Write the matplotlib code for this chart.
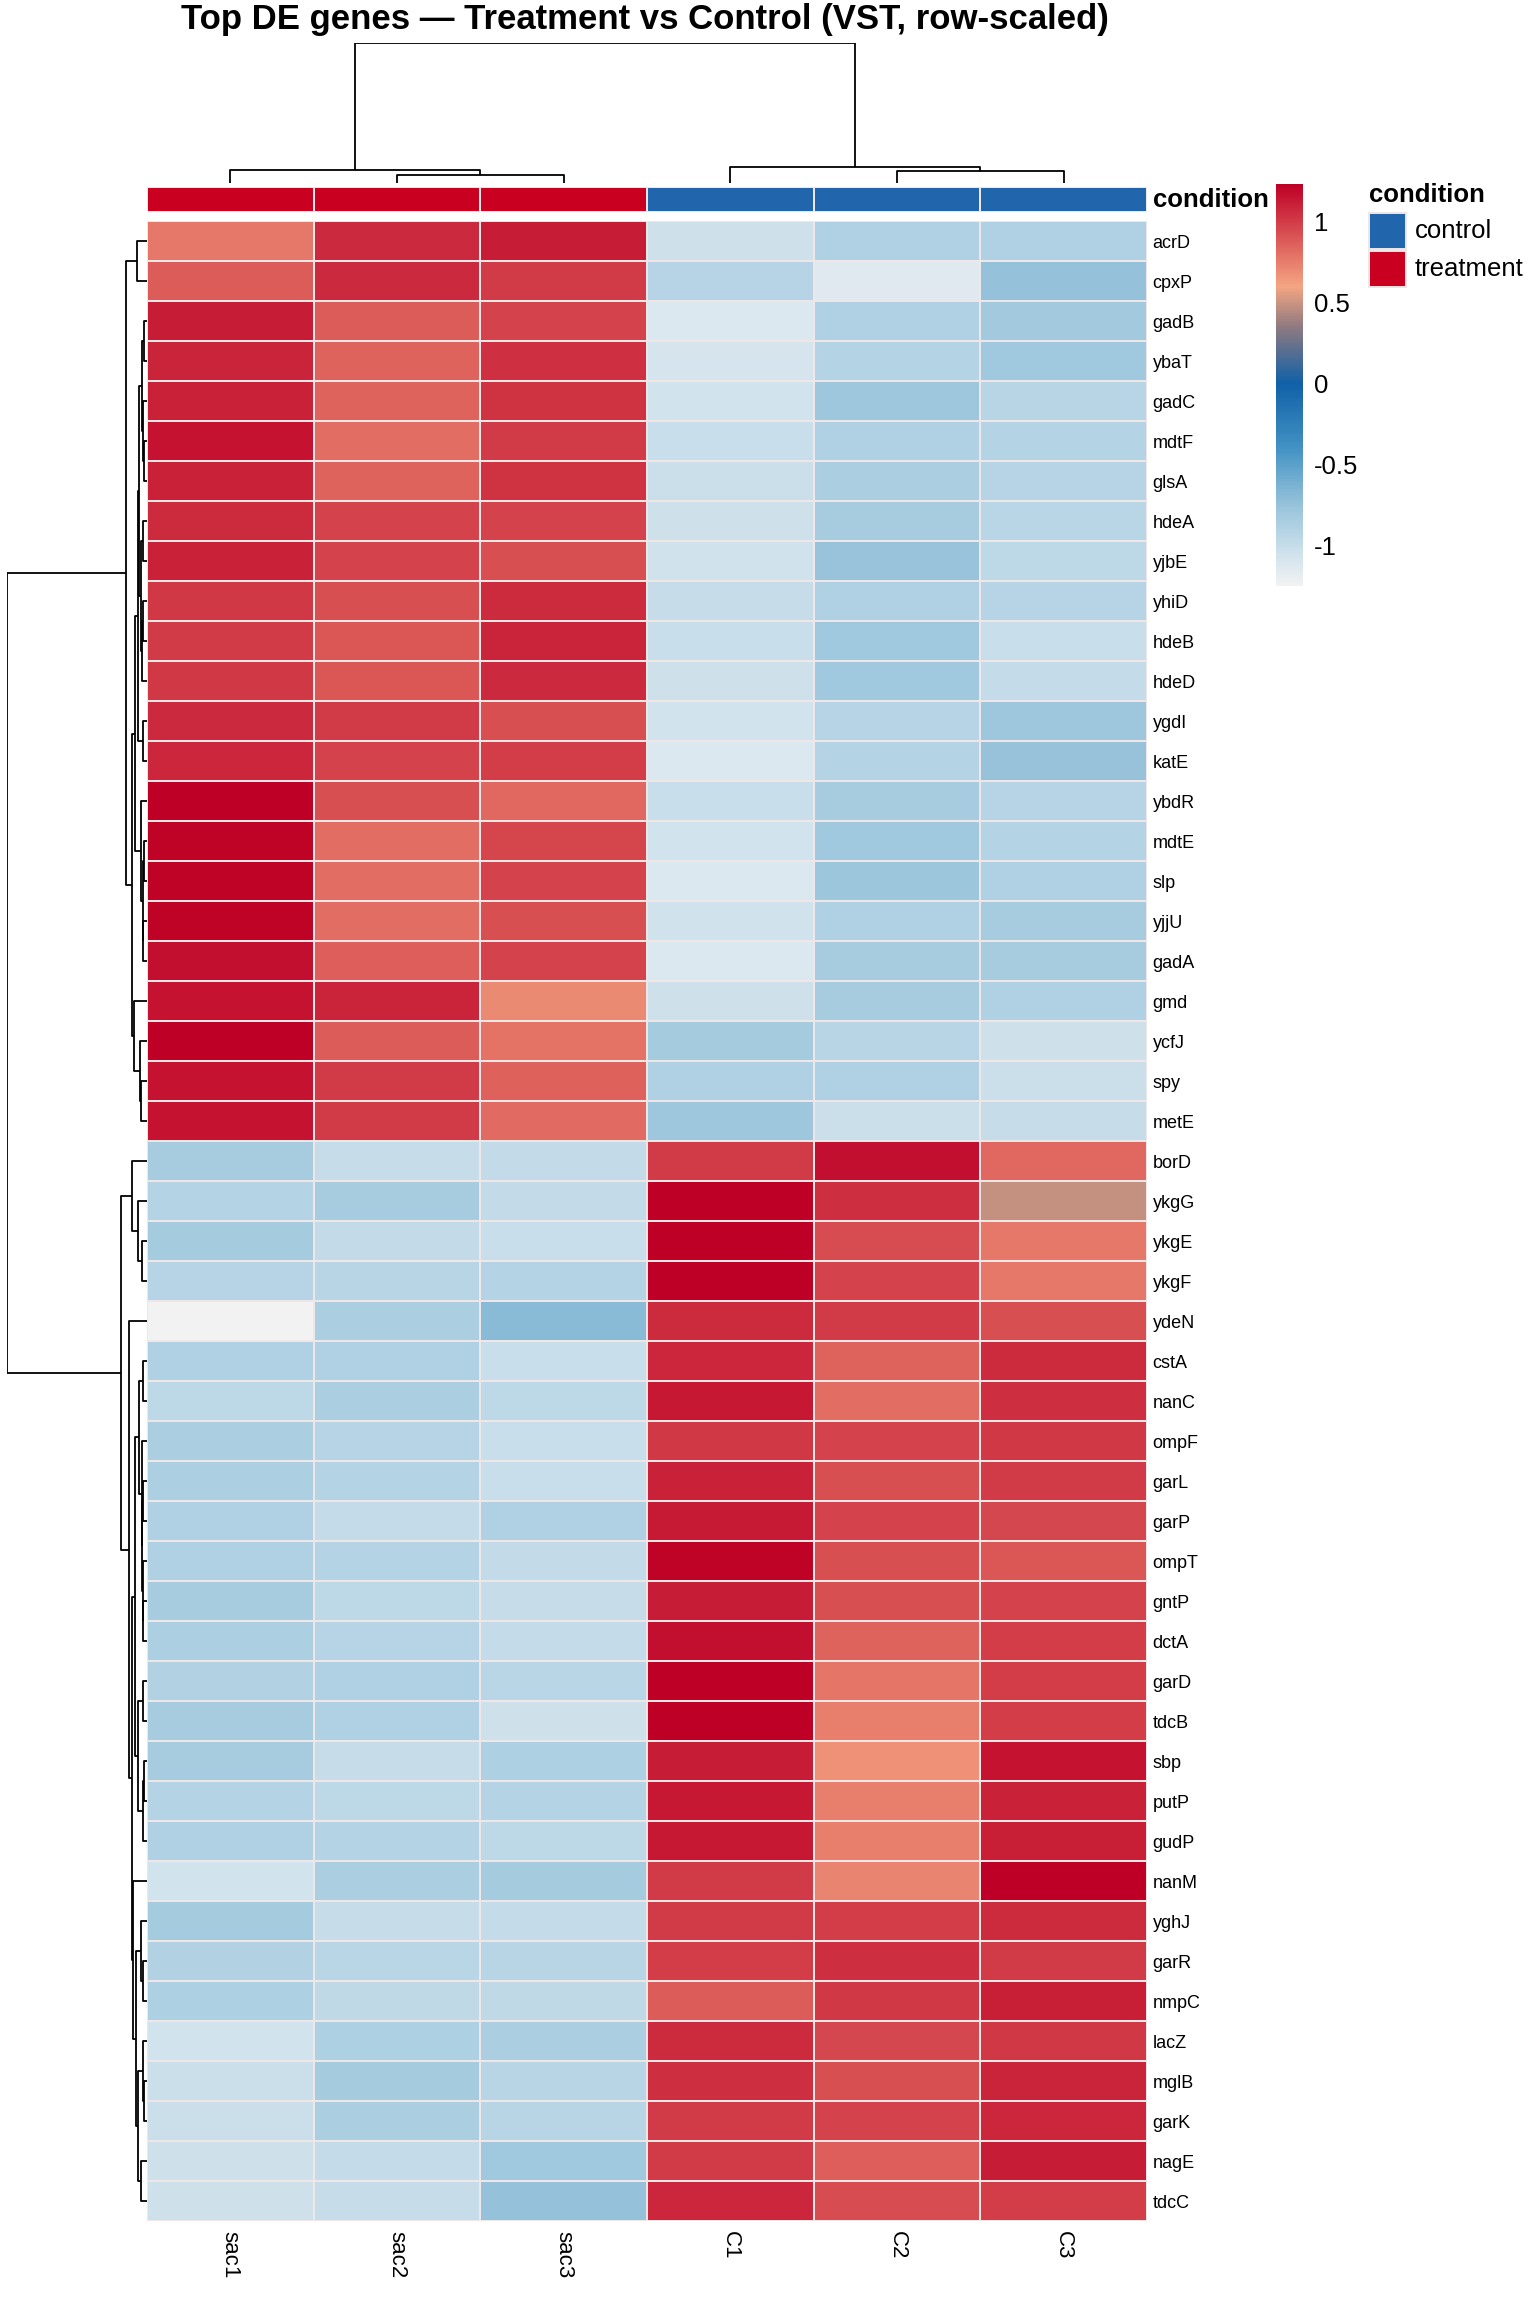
import numpy as np
import matplotlib
matplotlib.use("Agg")
import matplotlib.pyplot as plt
from matplotlib.colors import LinearSegmentedColormap, ListedColormap, Normalize
from matplotlib.patches import Rectangle
import matplotlib.colorbar as mcolorbar

plt.rcParams['font.family'] = ['Liberation Sans', 'DejaVu Sans']

# ---------------- data ----------------
samples = ['sac1', 'sac2', 'sac3', 'C1', 'C2', 'C3']
condition = ['treatment', 'treatment', 'treatment', 'control', 'control', 'control']

genes = ['acrD', 'cpxP', 'gadB', 'ybaT', 'gadC', 'mdtF', 'glsA', 'hdeA', 'yjbE', 'yhiD',
         'hdeB', 'hdeD', 'ygdI', 'katE', 'ybdR', 'mdtE', 'slp', 'yjjU', 'gadA', 'gmd',
         'ycfJ', 'spy', 'metE', 'borD', 'ykgG', 'ykgE', 'ykgF', 'ydeN', 'cstA', 'nanC',
         'ompF', 'garL', 'garP', 'ompT', 'gntP', 'dctA', 'garD', 'tdcB', 'sbp', 'putP',
         'gudP', 'nanM', 'yghJ', 'garR', 'nmpC', 'lacZ', 'mglB', 'garK', 'nagE', 'tdcC']

# row-scaled VST values, columns follow `samples`
z = [
    [0.77, 1.07, 1.12, -1.04, -0.89, -0.89],
    [0.88, 1.07, 1.00, -0.92, -1.14, -0.74],
    [1.12, 0.88, 0.97, -1.12, -0.89, -0.81],
    [1.09, 0.85, 1.04, -1.08, -0.91, -0.80],
    [1.10, 0.85, 1.03, -1.06, -0.79, -0.93],
    [1.16, 0.81, 1.00, -1.01, -0.89, -0.91],
    [1.10, 0.85, 1.03, -1.02, -0.86, -0.92],
    [1.06, 0.97, 0.97, -1.04, -0.84, -0.94],
    [1.10, 0.97, 0.92, -1.05, -0.76, -0.95],
    [1.01, 0.92, 1.06, -1.00, -0.89, -0.92],
    [1.00, 0.90, 1.09, -1.01, -0.80, -1.01],
    [1.01, 0.90, 1.07, -1.04, -0.80, -0.99],
    [1.07, 1.00, 0.92, -1.06, -0.92, -0.79],
    [1.08, 0.97, 0.99, -1.12, -0.91, -0.75],
    [1.23, 0.92, 0.83, -1.01, -0.84, -0.92],
    [1.22, 0.81, 0.96, -1.06, -0.80, -0.91],
    [1.22, 0.81, 0.97, -1.12, -0.78, -0.89],
    [1.22, 0.81, 0.92, -1.05, -0.89, -0.84],
    [1.17, 0.87, 0.97, -1.12, -0.84, -0.84],
    [1.16, 1.09, 0.70, -1.04, -0.84, -0.89],
    [1.23, 0.88, 0.79, -0.83, -0.93, -1.04],
    [1.16, 1.00, 0.86, -0.89, -0.89, -1.02],
    [1.16, 1.00, 0.82, -0.79, -1.02, -1.00],
    [-0.84, -1.00, -0.98, 1.00, 1.17, 0.83],
    [-0.91, -0.84, -0.98, 1.23, 1.05, 0.48],
    [-0.83, -0.98, -1.01, 1.23, 0.93, 0.77],
    [-0.92, -0.93, -0.91, 1.23, 0.97, 0.77],
    [-1.25, -0.86, -0.69, 1.06, 1.00, 0.92],
    [-0.89, -0.89, -1.01, 1.08, 0.85, 1.06],
    [-0.95, -0.86, -0.95, 1.14, 0.81, 1.05],
    [-0.86, -0.92, -1.01, 1.01, 0.97, 1.01],
    [-0.87, -0.91, -1.01, 1.10, 0.92, 1.00],
    [-0.89, -0.99, -0.89, 1.13, 0.97, 0.95],
    [-0.89, -0.91, -0.98, 1.22, 0.92, 0.90],
    [-0.84, -0.95, -1.00, 1.12, 0.92, 0.97],
    [-0.87, -0.92, -0.99, 1.17, 0.85, 0.99],
    [-0.90, -0.89, -0.94, 1.23, 0.78, 0.99],
    [-0.84, -0.89, -1.04, 1.23, 0.74, 0.99],
    [-0.84, -1.00, -0.88, 1.12, 0.67, 1.16],
    [-0.91, -0.95, -0.91, 1.14, 0.74, 1.10],
    [-0.89, -0.91, -0.95, 1.14, 0.74, 1.11],
    [-1.06, -0.86, -0.83, 1.00, 0.72, 1.23],
    [-0.83, -1.00, -0.99, 1.00, 0.99, 1.06],
    [-0.90, -0.94, -0.93, 0.99, 1.05, 1.00],
    [-0.88, -0.96, -0.96, 0.88, 1.01, 1.11],
    [-1.06, -0.88, -0.86, 1.06, 0.95, 1.01],
    [-1.02, -0.83, -0.93, 1.05, 0.92, 1.09],
    [-1.02, -0.86, -0.93, 1.00, 0.97, 1.08],
    [-1.04, -0.99, -0.80, 1.00, 0.87, 1.12],
    [-1.04, -1.00, -0.74, 1.08, 0.93, 0.99],
]

# clustering trees: [left, right, merge height]
row_tree = [
    [['acrD', 'cpxP', 10],
     [[[[[['gadB', 'ybaT', 3], ['gadC', ['mdtF', 'glsA', 3], 4], 5.5],
          [['hdeA', 'yjbE', 3.7], [['yhiD', 'hdeB', 3.7], 'hdeD', 5], 6.5], 8.5],
         ['ygdI', 'katE', 3.7], 9.5],
        ['ybdR', [['mdtE', 'slp', 2.7], ['yjjU', 'gadA', 3.7], 4.5], 6], 12],
       ['gmd', ['ycfJ', ['spy', 'metE', 6], 7], 12.7], 15], 21],
    [['borD', ['ykgG', ['ykgE', 'ykgF', 5.3], 8.7], 14.7],
     ['ydeN',
      [[[['cstA', 'nanC', 3.7],
         ['ompF', [['garL', 'garP', 3.7], ['ompT', ['gntP', 'dctA', 3.7], 4.3], 4.7], 5.3], 7.7],
        [['garD', 'tdcB', 3.7], [['sbp', 'putP', 3], 'gudP', 4.3], 8.7], 12],
       ['nanM',
        [['yghJ', ['garR', 'nmpC', 3.7], 6],
         [['lacZ', ['mglB', 'garK', 3], 3.7], ['nagE', 'tdcC', 6], 8.7], 11], 13.7], 15.3], 18], 26.3],
    140]
col_tree = [['sac1', ['sac2', 'sac3', 8], 13], ['C1', ['C2', 'C3', 12], 16], 140]

cond_colors = {'control': '#2166AC', 'treatment': '#CA0020'}
vmin, vmax = -1.25, 1.23
stops = [(-1.25, '#F2F2F2'), (-1.1, '#D8E6EE'), (-0.9, '#B2D2E4'), (-0.75, '#96C2DA'),
         (-0.4, '#4292C4'), (0.0, '#1060A8'), (0.35, '#8E7A80'), (0.6, '#F4A582'),
         (1.23, '#BE0026')]
cmap = LinearSegmentedColormap.from_list(
    'vst', [((v - vmin) / (vmax - vmin), c) for v, c in stops])
norm = Normalize(vmin=vmin, vmax=vmax)
edge = '#EFE7E7'

W, H = 1536, 2304
fig = plt.figure(figsize=(W / 100, H / 100), dpi=100)


def fbox(x0, y0, x1, y1):
    # pixel box (top-left origin) -> figure fraction
    return [x0 / W, 1 - y1 / H, (x1 - x0) / W, (y1 - y0) / H]


def draw_tree(ax, tree, pos, horizontal):
    # returns (centre, height) of the node, drawing U-links on the way
    if isinstance(tree, str):
        return pos[tree], 0.0
    l, r, h = tree
    cl, hl = draw_tree(ax, l, pos, horizontal)
    cr, hr = draw_tree(ax, r, pos, horizontal)
    a = [cl, cl, cr, cr]
    b = [hl, h, h, hr]
    if horizontal:
        ax.plot(a, b, color='black', lw=1.3, solid_capstyle='butt')
    else:
        ax.plot(b, a, color='black', lw=1.3, solid_capstyle='butt')
    return (cl + cr) / 2, h


# ---------------- heatmap ----------------
ax = fig.add_axes(fbox(147, 221, 1147, 2221))
mat = np.array(z)
ax.pcolormesh(mat, cmap=cmap, norm=norm, edgecolors=edge, linewidth=1.4)
ax.set_xlim(0, len(samples))
ax.set_ylim(len(genes), 0)
for s in ax.spines.values():
    s.set_visible(False)
ax.yaxis.tick_right()
ax.set_yticks(np.arange(len(genes)) + 0.5)
ax.set_yticklabels(genes, fontsize=13)
ax.set_xticks(np.arange(len(samples)) + 0.5)
ax.set_xticklabels(samples, fontsize=16, rotation=270, ha='center', va='top')
ax.tick_params(length=0, pad=4)
ax.tick_params(axis='x', pad=7)

# ---------------- annotation bar ----------------
axa = fig.add_axes(fbox(147, 187, 1147, 212))
levels = sorted(cond_colors)
codes = np.array([[levels.index(c) for c in condition]])
axa.pcolormesh(codes, cmap=ListedColormap([cond_colors[k] for k in levels]),
               vmin=-0.5, vmax=len(levels) - 0.5, edgecolors=edge, linewidth=1.4)
axa.set_xlim(0, len(samples))
axa.axis('off')
fig.text(1153 / W, 1 - 200 / H, 'condition', fontsize=18.5, fontweight='bold',
         ha='left', va='center')

# ---------------- dendrograms ----------------
axc = fig.add_axes(fbox(147, 43, 1147, 183))
draw_tree(axc, col_tree, {s: i + 0.5 for i, s in enumerate(samples)}, True)
axc.set_xlim(0, len(samples))
axc.set_ylim(0, 140)
axc.axis('off')

axr = fig.add_axes(fbox(7, 221, 147, 2221))
draw_tree(axr, row_tree, {g: i + 0.5 for i, g in enumerate(genes)}, False)
axr.set_ylim(len(genes), 0)
axr.set_xlim(140, 0)
axr.axis('off')

# ---------------- colour bar ----------------
cax = fig.add_axes(fbox(1276, 184, 1303, 586))
cb = mcolorbar.ColorbarBase(cax, cmap=cmap, norm=norm)
cb.outline.set_visible(False)
cb.set_ticks([-1, -0.5, 0, 0.5, 1])
cb.set_ticklabels(['-1', '-0.5', '0', '0.5', '1'])
cax.tick_params(length=0, labelsize=18.5, pad=8)

# ---------------- legend ----------------
fig.text(1369 / W, 1 - 195 / H, 'condition', fontsize=18.5, fontweight='bold',
         ha='left', va='center')
for k, lev in enumerate(levels):
    y0 = 213 + k * 38
    fig.patches.append(Rectangle((1369 / W, 1 - (y0 + 36) / H), 37 / W, 36 / H,
                                 transform=fig.transFigure, facecolor=cond_colors[lev],
                                 edgecolor=edge, linewidth=1.4))
    fig.text(1415 / W, 1 - (y0 + 18) / H, lev, fontsize=18.5, ha='left', va='center')

fig.text(645 / W, 1 - 20 / H, 'Top DE genes \u2014 Treatment vs Control (VST, row-scaled)',
         fontsize=25, fontweight='bold', ha='center', va='center')

fig.savefig('out.png', dpi=100)
